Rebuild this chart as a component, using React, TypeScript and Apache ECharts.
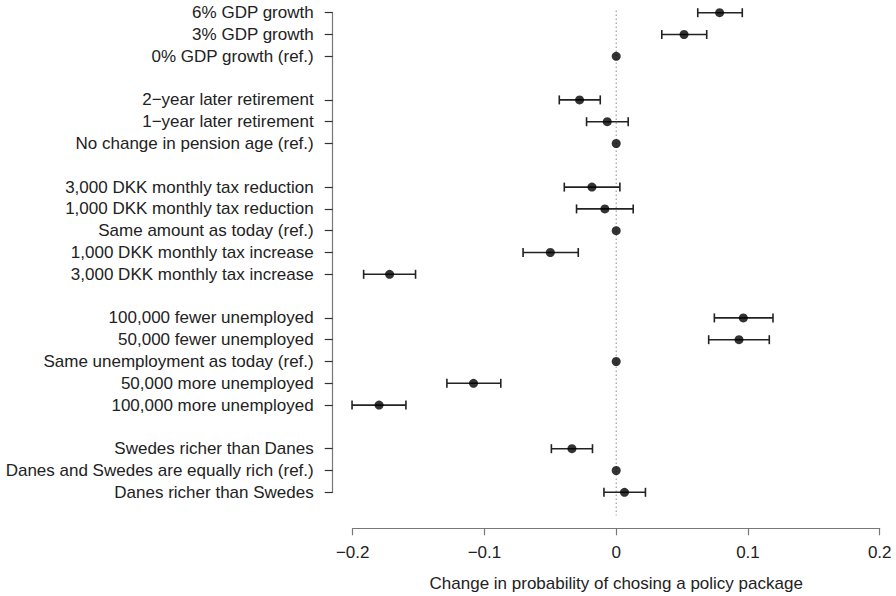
import React, { useEffect, useRef } from "react";
import * as echarts from "echarts";

// Category rows (top to bottom); empty strings are the gaps between groups
const categories: string[] = [
  "6% GDP growth",
  "3% GDP growth",
  "0% GDP growth (ref.)",
  "",
  "2\u2212year later retirement",
  "1\u2212year later retirement",
  "No change in pension age (ref.)",
  "",
  "3,000 DKK monthly tax reduction",
  "1,000 DKK monthly tax reduction",
  "Same amount as today (ref.)",
  "1,000 DKK monthly tax increase",
  "3,000 DKK monthly tax increase",
  "",
  "100,000 fewer unemployed",
  "50,000 fewer unemployed",
  "Same unemployment as today (ref.)",
  "50,000 more unemployed",
  "100,000 more unemployed",
  "",
  "Swedes richer than Danes",
  "Danes and Swedes are equally rich (ref.)",
  "Danes richer than Swedes",
];

// Point estimates (null = gap row)
const estimates: (number | null)[] = [
  0.0785, 0.0515, 0, null,
  -0.0278, -0.0068, 0, null,
  -0.0184, -0.0086, 0, -0.05, -0.172, null,
  0.0965, 0.0932, 0, -0.1083, -0.18, null,
  -0.0336, 0, 0.0063,
];

// Lower 95% bounds
const lower: (number | null)[] = [
  0.0619, 0.0346, null, null,
  -0.0432, -0.0225, null, null,
  -0.0394, -0.0301, null, -0.0707, -0.1917, null,
  0.0745, 0.0702, null, -0.1285, -0.2005, null,
  -0.0492, null, -0.0093,
];

// Upper 95% bounds
const upper: (number | null)[] = [
  0.0957, 0.0687, null, null,
  -0.0121, 0.0091, null, null,
  0.0028, 0.0129, null, -0.0288, -0.1523, null,
  0.119, 0.1162, null, -0.0876, -0.1596, null,
  -0.018, null, 0.0222,
];

// X axis ticks and their labels
const xTicks: number[] = [-0.2, -0.1, 0, 0.1, 0.2];
const xTickLabels: string[] = ["\u22120.2", "\u22120.1", "0", "0.1", "0.2"];
const xTitle = "Change in probability of chosing a policy package";

const FONT = "'Liberation Sans', Arial, Helvetica, sans-serif";
const AXIS_COLOR = "#777777";
const TEXT_COLOR = "#222222";

export default function App() {
  const ref = useRef<HTMLDivElement>(null);

  useEffect(() => {
    if (!ref.current) return;
    const chart = echarts.init(ref.current, null, { renderer: "svg" });

    const pointData: any[] = [];
    const barData: any[] = [];
    categories.forEach((c, i) => {
      const e = estimates[i];
      if (e !== null) pointData.push([e, i]);
      const lo = lower[i];
      const hi = upper[i];
      if (lo !== null && hi !== null) barData.push([lo, hi, i]);
    });

    const option: any = {
      animation: false,
      backgroundColor: "#ffffff",
      grid: {
        left: 352.7,
        right: 16.3,
        top: 12.7,
        bottom: 103.7,
        containLabel: false,
        outerBoundsMode: "none",
      },
      xAxis: {
        type: "value",
        min: -0.2,
        max: 0.2,
        interval: 0.1,
        offset: 36,
        splitLine: { show: false },
        axisLine: { show: true, onZero: false, lineStyle: { color: AXIS_COLOR, width: 1.2 } },
        axisTick: { show: true, length: 7, lineStyle: { color: AXIS_COLOR, width: 1.2 } },
        axisLabel: {
          color: TEXT_COLOR,
          fontSize: 17,
          fontFamily: FONT,
          margin: 16,
          formatter: (v: number) => {
            const idx = xTicks.findIndex((t) => Math.abs(t - v) < 1e-9);
            return idx >= 0 ? xTickLabels[idx] : "";
          },
        },
        name: xTitle,
        nameLocation: "middle",
        nameGap: 47,
        nameTextStyle: { color: TEXT_COLOR, fontSize: 17, fontFamily: FONT },
      },
      yAxis: {
        type: "category",
        data: categories,
        inverse: true,
        boundaryGap: false,
        offset: 20,
        splitLine: { show: false },
        axisLine: { show: true, onZero: false, lineStyle: { color: AXIS_COLOR, width: 1.2 } },
        axisTick: {
          show: true,
          length: 8,
          interval: (idx: number) => categories[idx] !== "",
          lineStyle: { color: "#333333", width: 1.2 },
        },
        axisLabel: {
          interval: 0,
          color: TEXT_COLOR,
          fontSize: 17,
          fontFamily: FONT,
          margin: 19,
        },
      },
      series: [
        {
          type: "custom",
          name: "zero line",
          z: 1,
          silent: true,
          clip: false,
          data: [[0, 0]],
          encode: { x: 0, y: 1 },
          renderItem: (params: any, api: any) => {
            const p = api.coord([0, 0]);
            const cs = params.coordSys;
            return {
              type: "line",
              shape: { x1: p[0], y1: cs.y - 2, x2: p[0], y2: cs.y + cs.height + 23 },
              style: { stroke: "#555555", lineWidth: 1, lineDash: [1, 3] },
            };
          },
        },
        {
          type: "custom",
          name: "CI",
          z: 2,
          silent: true,
          clip: false,
          data: barData,
          encode: { x: [0, 1], y: 2 },
          renderItem: (params: any, api: any) => {
            const lo = api.value(0);
            const hi = api.value(1);
            const row = api.value(2);
            const a = api.coord([lo, row]);
            const b = api.coord([hi, row]);
            const cap = 4.5;
            const style = { stroke: "#222222", lineWidth: 1.6 };
            return {
              type: "group",
              children: [
                { type: "line", shape: { x1: a[0], y1: a[1], x2: b[0], y2: b[1] }, style },
                { type: "line", shape: { x1: a[0], y1: a[1] - cap, x2: a[0], y2: a[1] + cap }, style },
                { type: "line", shape: { x1: b[0], y1: b[1] - cap, x2: b[0], y2: b[1] + cap }, style },
              ],
            };
          },
        },
        {
          type: "scatter",
          name: "estimate",
          z: 3,
          symbol: "circle",
          symbolSize: 9,
          itemStyle: { color: "#000000" },
          data: pointData,
        },
      ],
    };

    chart.setOption(option);
    return () => chart.dispose();
  }, []);

  return (
    <div
      ref={ref}
      style={{ position: "absolute", left: 0, top: 0, width: 896, height: 596, background: "#fff" }}
    />
  );
}
